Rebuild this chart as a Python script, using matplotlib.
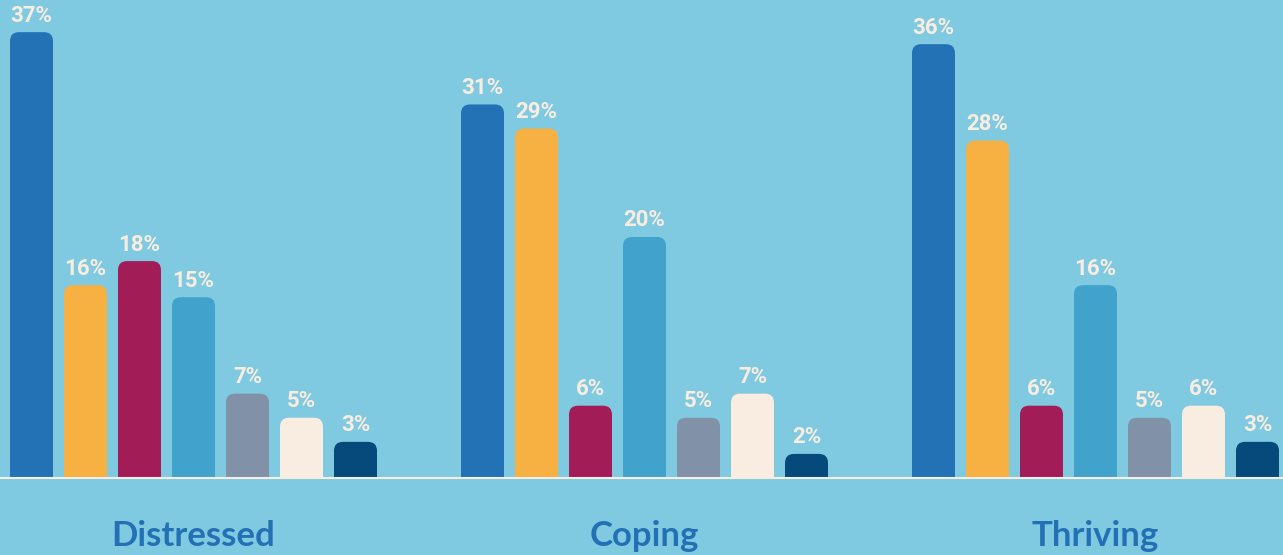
import matplotlib
matplotlib.use("Agg")
import matplotlib.pyplot as plt
from matplotlib.path import Path
from matplotlib.patches import PathPatch

# ── data ─────────────────────────────────────────────
groups     = ['Distressed', 'Coping', 'Thriving']
distressed = [37, 16, 18, 15, 7, 5, 3]
coping     = [31, 29, 6, 20, 5, 7, 2]
thriving   = [36, 28, 6, 16, 5, 6, 3]
series     = [distressed, coping, thriving]

bar_colors = ['#2372B5', '#F7B143', '#A21D58', '#41A2CC',
              '#8091A8', '#F9ECE0', '#064A7C']

# ── layout ───────────────────────────────────────────
BG         = '#7FCAE1'
W, H       = 1283, 555
PX_X       = 54.0      # px per bar slot
PX_Y       = 12.05     # px per percent
BASE_PX    = 77        # baseline height from bottom (px)
GROUP_STEP = 451 / PX_X
BAR_W      = 43 / PX_X
RADIUS_PX  = 9


def top_rounded_bar(left, width, height, rx, ry):
    """bar path: square bottom, rounded top corners"""
    right = left + width
    verts = [(left, 0), (left, height - ry), (left, height), (left + rx, height),
             (right - rx, height), (right, height), (right, height - ry),
             (right, 0), (left, 0)]
    codes = [Path.MOVETO, Path.LINETO, Path.CURVE3, Path.CURVE3,
             Path.LINETO, Path.CURVE3, Path.CURVE3, Path.LINETO, Path.CLOSEPOLY]
    return Path(verts, codes)


fig = plt.figure(figsize=(W / 100, H / 100), dpi=100, facecolor=BG)
ax = fig.add_axes([0, 0, 1, 1])
ax.set_facecolor(BG)
x0 = -31.5 / PX_X
ax.set_xlim(x0, x0 + W / PX_X)
ax.set_ylim(-BASE_PX / PX_Y, (H - BASE_PX) / PX_Y)
ax.axis('off')

rx = RADIUS_PX / PX_X
ry = RADIUS_PX / PX_Y

for g, vals in enumerate(series):
    for i, v in enumerate(vals):
        xc = g * GROUP_STEP + i
        path = top_rounded_bar(xc - BAR_W / 2, BAR_W, v, rx, ry)
        ax.add_patch(PathPatch(path, fc=bar_colors[i], ec='none', zorder=2))
        ax.annotate(f"{v}%", (xc, v), xytext=(0, 4), textcoords='offset points',
                    ha='center', va='bottom', fontsize=16, fontweight='bold',
                    family='Roboto', color='#F9ECE0', zorder=3)
    ax.text(g * GROUP_STEP + 3, -(536 - 478) / PX_Y, groups[g],
            ha='center', va='center', fontsize=25, fontweight='bold',
            family='Lato', color='#2370B4')

ax.axhline(0, color='#F9ECE0', lw=1.5, zorder=3)

fig.savefig('out.png', dpi=100, facecolor=BG)
